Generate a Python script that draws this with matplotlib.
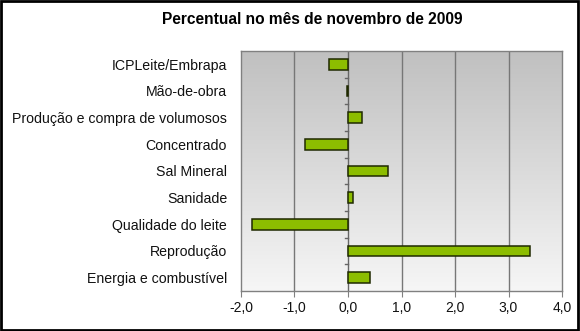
import matplotlib
matplotlib.use("Agg")
import matplotlib.pyplot as plt
from matplotlib.patches import Rectangle
import numpy as np

plt.rcParams['font.family'] = ['Liberation Sans', 'DejaVu Sans']

# data
categorias = ["ICPLeite/Embrapa", "Mão-de-obra", "Produção e compra de volumosos",
              "Concentrado", "Sal Mineral", "Sanidade", "Qualidade do leite",
              "Reprodução", "Energia e combustível"]
valores = [-0.35, -0.02, 0.27, -0.80, 0.75, 0.09, -1.80, 3.40, 0.42]
xticks = [-2, -1, 0, 1, 2, 3, 4]
xlabels = ["-2,0", "-1,0", "0,0", "1,0", "2,0", "3,0", "4,0"]
titulo = "Percentual no mês de novembro de 2009"

fig = plt.figure(figsize=(5.8, 3.31), dpi=100)
ax = fig.add_axes([0.4155, 0.121, 0.5535, 0.725])

# gradient background, grey on top to near white at bottom
grad = np.linspace(0, 1, 256).reshape(-1, 1)
ax.imshow(grad, extent=[-2, 4, 8.5, -0.5], aspect='auto',
          cmap=matplotlib.colors.LinearSegmentedColormap.from_list("g", ["#c0c0c0", "#f6f6f6"]),
          zorder=0)

y = np.arange(len(categorias))
ax.barh(y, valores, height=0.4, color="#8cbd00", edgecolor="#1f2900", linewidth=1.1, zorder=3)

ax.set_xlim(-2, 4)
ax.set_ylim(8.5, -0.5)
ax.set_xticks(xticks)
ax.set_xticklabels(xlabels, fontsize=10, color="#111111")
ax.tick_params(axis='x', length=4, color="#808080", pad=3)

for v in [-1, 1, 2, 3]:
    ax.axvline(v, color="#777777", linewidth=1.0, zorder=1)

# y axis at zero with separators
ax.axvline(0, color="#666666", linewidth=1.0, zorder=2)
for b in np.arange(0.5, len(categorias) - 0.5, 1):
    ax.plot([-0.06, 0], [b, b], color="#666666", linewidth=1.0, zorder=2)

ax.set_yticks(y)
ax.set_yticklabels(categorias, fontsize=10.2, color="#111111")
ax.tick_params(axis='y', length=0, pad=10)

for s in ax.spines.values():
    s.set_color("#808080")
    s.set_linewidth(1.0)

fig.text(0.538, 0.94, titulo, ha='center', va='center', fontsize=11.2, fontweight='bold')

fig.patches.append(Rectangle((0.002, 0.003), 0.995, 0.994, transform=fig.transFigure,
                             fill=False, edgecolor="black", linewidth=2.0))

fig.savefig("out.png", dpi=100)
